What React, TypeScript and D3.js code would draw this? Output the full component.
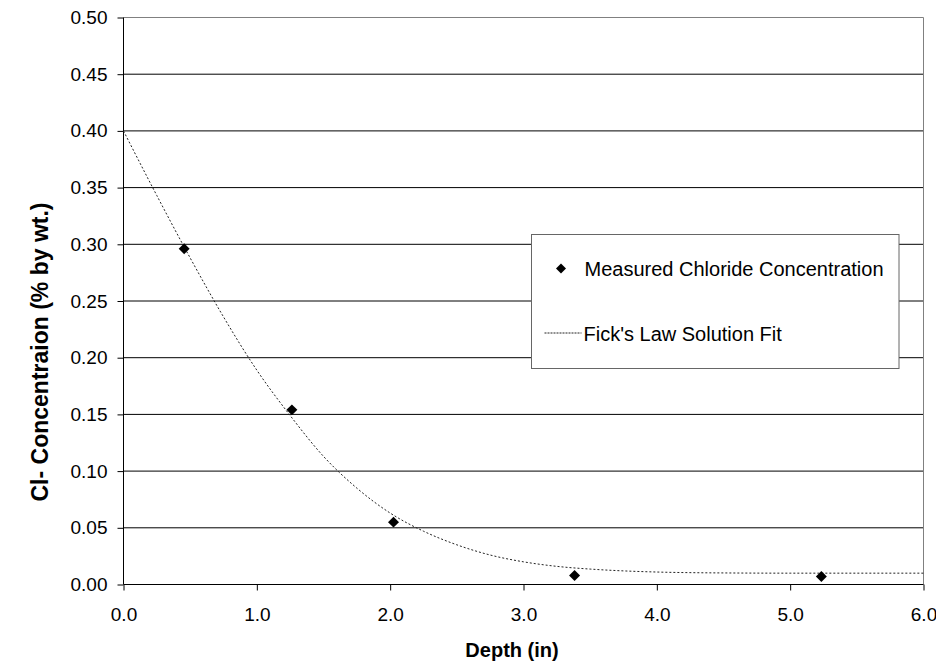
import React, { useEffect, useRef } from 'react';
import * as d3 from 'd3';

// measured points (depth in, Cl- % by wt.)
const measuredDepth = [0.455, 1.263, 2.025, 3.383, 5.234];
const measuredConc = [0.296, 0.154, 0.055, 0.008, 0.007];

// Fick's law fit curve
const fitDepth = [0, 0.25, 0.5, 0.75, 1.0, 1.25, 1.5, 1.75, 2.0, 2.25, 2.5, 2.75, 3.0, 3.25, 3.5, 3.75, 4.0, 4.5, 5.0, 5.5, 6.0];
const fitConc = [0.4, 0.343, 0.288, 0.236, 0.189, 0.149, 0.113, 0.085, 0.063, 0.047, 0.035, 0.026, 0.02, 0.016, 0.0136, 0.012, 0.011, 0.0102, 0.01, 0.01, 0.01];

const xTicks = [0, 1, 2, 3, 4, 5, 6];
const yTicks = [0, 0.05, 0.1, 0.15, 0.2, 0.25, 0.3, 0.35, 0.4, 0.45, 0.5];

const legendLabels = ['Measured Chloride Concentration', "Fick's Law Solution Fit"];

const W = 936;
const H = 663;
const FONT = '"Liberation Sans", Arial, sans-serif';

const App = () => {
  const ref = useRef<SVGSVGElement | null>(null);

  useEffect(() => {
    if (!ref.current) return;
    const svg = d3.select(ref.current);
    svg.selectAll('*').remove();

    const x = d3.scaleLinear().domain([0, 6]).range([123.5, 923.5]);
    const y = d3.scaleLinear().domain([0, 0.5]).range([584.5, 17.5]);

    svg.append('rect').attr('width', W).attr('height', H).attr('fill', '#fff');

    // horizontal gridlines
    svg
      .append('g')
      .selectAll('line')
      .data(yTicks.filter(t => t > 0 && t < 0.5))
      .enter()
      .append('line')
      .attr('x1', x(0))
      .attr('x2', x(6))
      .attr('y1', d => y(d))
      .attr('y2', d => y(d))
      .attr('stroke', '#000')
      .attr('stroke-width', 1);

    // plot area border (top, right)
    svg
      .append('path')
      .attr('d', `M${x(0)},${y(0.5)}H${x(6)}V${y(0)}`)
      .attr('fill', 'none')
      .attr('stroke', '#808080');

    // y axis
    const yAxis = svg
      .append('g')
      .attr('transform', `translate(${x(0)},0)`)
      .call(
        d3.axisLeft(y).tickValues(yTicks).tickSize(6).tickPadding(10).tickFormat(d3.format('.2f'))
      );

    // x axis
    const xAxis = svg
      .append('g')
      .attr('transform', `translate(0,${y(0)})`)
      .call(
        d3.axisBottom(x).tickValues(xTicks).tickSize(6).tickPadding(17).tickFormat(d3.format('.1f'))
      );

    [yAxis, xAxis].forEach(ax => {
      ax.select('.domain').attr('stroke', '#000');
      ax.selectAll('.tick line').attr('stroke', '#000');
      ax.selectAll('text')
        .attr('fill', '#000')
        .style('font-family', FONT)
        .style('font-size', '19px');
    });
    yAxis.select('.domain').attr('d', `M0,${y(0.5)}V${y(0)}`);
    xAxis.select('.domain').attr('d', `M${x(0)},0H${x(6)}`);

    // fit curve
    const line = d3
      .line<number>()
      .x((d, i) => x(fitDepth[i]))
      .y(d => y(d))
      .curve(d3.curveMonotoneX);

    svg
      .append('path')
      .datum(fitConc)
      .attr('d', line)
      .attr('fill', 'none')
      .attr('stroke', '#222')
      .attr('stroke-width', 1)
      .attr('stroke-dasharray', '2,2');

    // measured points
    const diamond = d3.symbol().type(d3.symbolSquare).size(60);
    svg
      .append('g')
      .selectAll('path')
      .data(measuredConc)
      .enter()
      .append('path')
      .attr('d', diamond)
      .attr('transform', (d, i) => `translate(${x(measuredDepth[i])},${y(d)}) rotate(45)`)
      .attr('fill', '#000');

    // legend
    const lg = svg.append('g').attr('transform', 'translate(531.5,234.5)');
    lg.append('rect')
      .attr('width', 367.5)
      .attr('height', 134)
      .attr('fill', '#fff')
      .attr('stroke', '#666');
    lg.append('path')
      .attr('d', d3.symbol().type(d3.symbolSquare).size(50))
      .attr('transform', 'translate(29.5,34) rotate(45)')
      .attr('fill', '#000');
    lg.append('line')
      .attr('x1', 13)
      .attr('x2', 50)
      .attr('y1', 98.5)
      .attr('y2', 98.5)
      .attr('stroke', '#222')
      .attr('stroke-dasharray', '2,1');
    lg.selectAll('text')
      .data(legendLabels)
      .enter()
      .append('text')
      .attr('x', (d, i) => (i === 0 ? 53 : 52))
      .attr('y', (d, i) => (i === 0 ? 41 : 106))
      .style('font-family', FONT)
      .style('font-size', '20px')
      .attr('fill', '#000')
      .text(d => d);

    // axis titles
    svg
      .append('text')
      .attr('x', 512)
      .attr('y', 657)
      .attr('text-anchor', 'middle')
      .style('font-family', FONT)
      .style('font-size', '20px')
      .style('font-weight', 'bold')
      .text('Depth (in)');

    svg
      .append('text')
      .attr('transform', 'translate(48,352) rotate(-90)')
      .attr('text-anchor', 'middle')
      .style('font-family', FONT)
      .style('font-size', '23px')
      .style('font-weight', 'bold')
      .text('Cl- Concentraion (% by wt.)');
  }, []);

  return (
    <svg
      ref={ref}
      width={W}
      height={H}
      style={{ position: 'absolute', left: 0, top: 0, display: 'block' }}
    />
  );
};

export default App;
